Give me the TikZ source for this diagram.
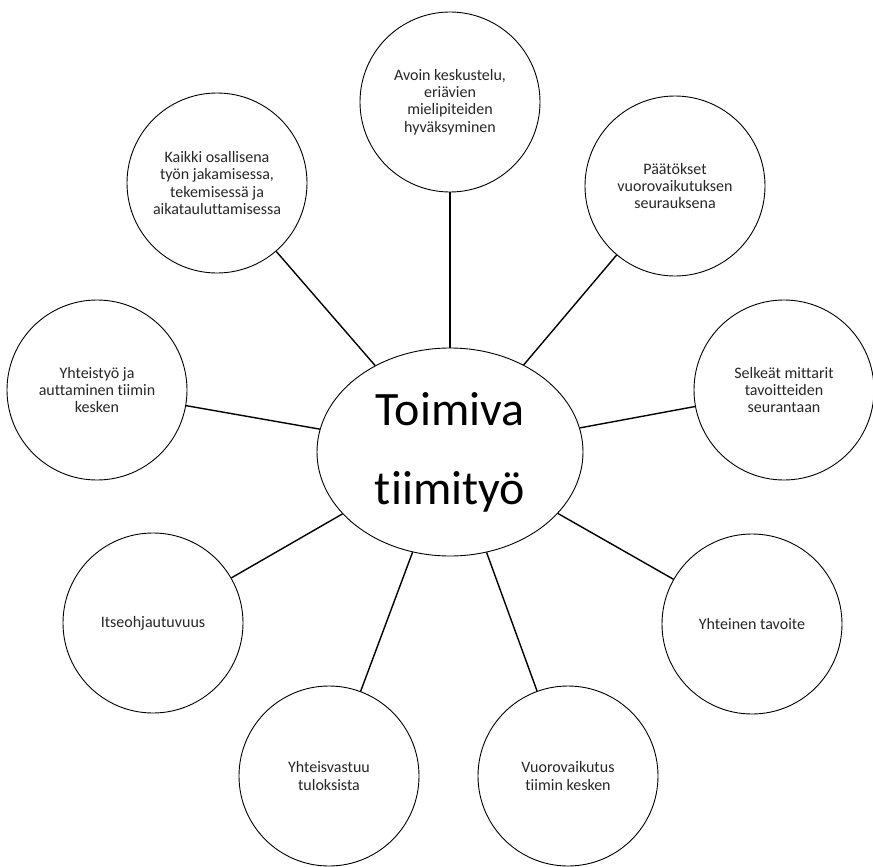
\documentclass[tikz,border=0pt]{standalone}
\usepackage{fontspec}
\setmainfont{Carlito}[Ligatures={NoCommon,NoContextual}]
\usetikzlibrary{shapes.geometric}
\begin{document}
\begin{tikzpicture}[x=1pt,y=-1pt,
  bub/.style={draw, circle, minimum size=180pt, inner sep=0pt, align=center,
    font=\fontsize{16}{17.3}\selectfont, line width=0.9pt, text=black!85},
  hub/.style={draw, ellipse, minimum width=266pt, minimum height=208pt, inner sep=0pt,
    align=center, font=\fontsize{48}{79}\selectfont, line width=0.9pt},
  link/.style={line width=1.4pt}]
\useasboundingbox (0,0) rectangle (873,867);
\node[hub] (c) at (450,452) {Toimiva\\tiimityö};
\node[bub] (n1) at (450,102) {Avoin keskustelu,\\eriävien\\mielipiteiden\\hyväksyminen};
\node[bub] (n2) at (675,186) {Päätökset\\vuorovaikutuksen\\seurauksena};
\node[bub] (n3) at (784,390) {Selkeät mittarit\\tavoitteiden\\seurantaan};
\node[bub] (n4) at (752,624) {Yhteinen tavoite};
\node[bub] (n5) at (568,776) {Vuorovaikutus\\tiimin kesken};
\node[bub] (n6) at (329,776) {Yhteisvastuu\\tuloksista};
\node[bub] (n7) at (153,623) {Itseohjautuvuus};
\node[bub] (n8) at (97,390) {Yhteistyö ja\\auttaminen tiimin\\kesken};
\node[bub] (n9) at (217,183) {Kaikki osallisena\\työn jakamisessa,\\tekemisessä ja\\aikatauluttamisessa};
\foreach \i in {1,...,9} \draw[link] (c) -- (n\i);
\end{tikzpicture}
\end{document}
